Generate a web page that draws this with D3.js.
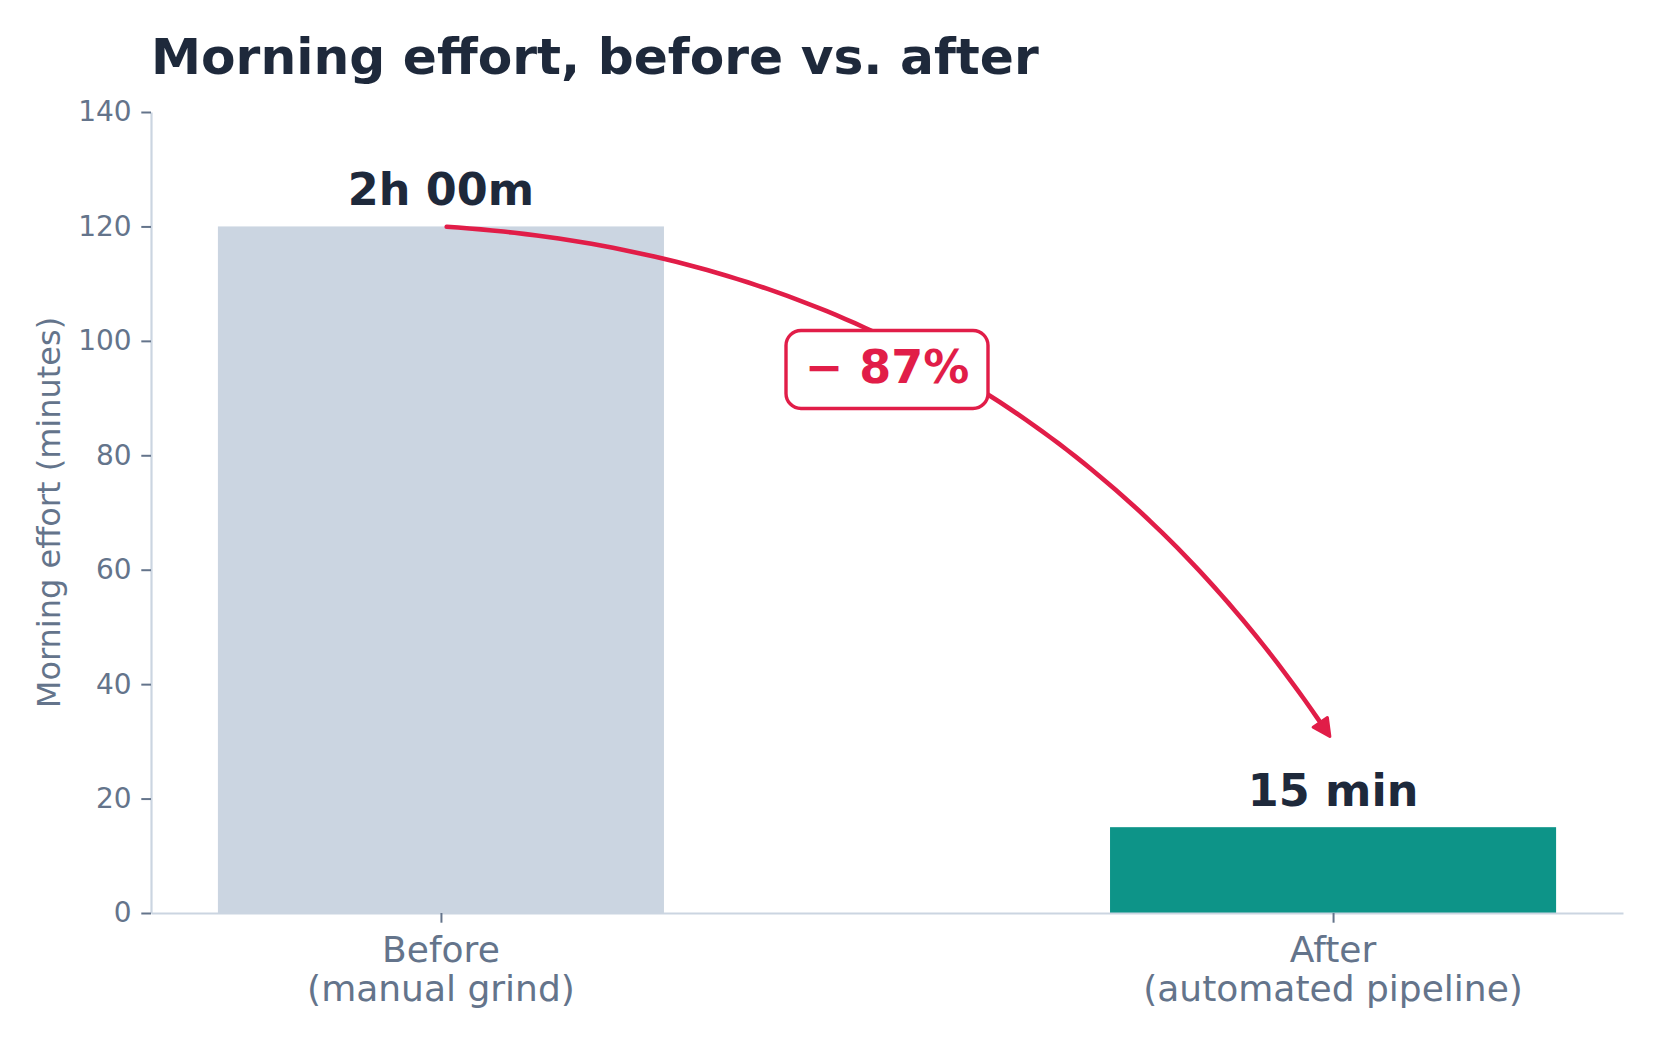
<!DOCTYPE html>
<html>
<head>
<meta charset="utf-8">
<script src="https://cdn.jsdelivr.net/npm/d3@7"></script>
<style>
  body { margin: 0; background: #fff; }
  text { font-family: "DejaVu Sans", sans-serif; }
</style>
</head>
<body>
<div id="chart"></div>
<script>
// chart values
const categories = ["Before", "After"];
const subLabels = ["(manual grind)", "(automated pipeline)"];
const minutes = [120, 15];
const valueLabels = ["2h 00m", "15 min"];
const barColors = ["#cbd5e1", "#0d9488"];
const yTicks = [0, 20, 40, 60, 80, 100, 120, 140];
const arrowFrom = [0, 120];
const arrowTo = [1, 30];
const changeLabel = "\u2212 87%";
const changeLabelAt = [0.5, 95];

let width = 1659, height = 1042;
let margin = {top: 112, right: 36, bottom: 129, left: 151};

let svg = d3.select("#chart")
  .append("svg")
  .attr("width", width)
  .attr("height", height);

svg.append("rect").attr("width", width).attr("height", height).attr("fill", "#fff");

let x = d3.scaleLinear()
  .domain([-0.325, 1.325])
  .range([margin.left, width - margin.right]);

let y = d3.scaleLinear()
  .domain([0, 140])
  .range([height - margin.bottom, margin.top]);

let barWidth = 0.5;

// bars
svg.append("g")
  .selectAll("rect")
  .data(minutes)
  .enter().append("rect")
    .attr("x", function(d, i){ return x(i - barWidth / 2); })
    .attr("width", x(barWidth) - x(0))
    .attr("y", function(d){ return y(d); })
    .attr("height", function(d){ return y(0) - y(d); })
    .attr("fill", function(d, i){ return barColors[i]; });

// value labels
svg.append("g")
  .selectAll("text")
  .data(minutes)
  .enter().append("text")
    .attr("x", function(d, i){ return x(i); })
    .attr("y", function(d){ return y(d) - 21; })
    .attr("text-anchor", "middle")
    .style("font-size", "44.5px")
    .style("font-weight", "bold")
    .style("fill", "#1e293b")
    .text(function(d, i){ return valueLabels[i]; });

// y axis
let yAxis = svg.append("g")
  .attr("transform", "translate(" + margin.left + ",0)")
  .call(d3.axisLeft(y).tickValues(yTicks).tickSize(9.7).tickSizeOuter(0).tickPadding(9.7));
yAxis.select(".domain").attr("stroke", "#cbd5e1").attr("stroke-width", 2.2);
yAxis.selectAll(".tick line").attr("stroke", "#64748b").attr("stroke-width", 2);
yAxis.selectAll(".tick text")
  .style("font-size", "28px")
  .style("fill", "#64748b")
  .style("font-family", "DejaVu Sans");

// x axis
let xAxis = svg.append("g")
  .attr("transform", "translate(0," + y(0) + ")")
  .call(d3.axisBottom(x).tickValues([0, 1]).tickSize(9.7).tickSizeOuter(0).tickFormat(""));
xAxis.select(".domain").attr("stroke", "#cbd5e1").attr("stroke-width", 2.2);
xAxis.selectAll(".tick line").attr("stroke", "#64748b").attr("stroke-width", 2);

let catText = svg.append("g")
  .selectAll("text")
  .data(categories)
  .enter().append("text")
    .attr("text-anchor", "middle")
    .style("font-size", "36px")
    .style("fill", "#64748b");
catText.append("tspan")
  .attr("x", function(d, i){ return x(i); })
  .attr("y", y(0) + 49)
  .text(function(d){ return d; });
catText.append("tspan")
  .attr("x", function(d, i){ return x(i); })
  .attr("y", y(0) + 88)
  .text(function(d, i){ return subLabels[i]; });

// y axis label
svg.append("text")
  .attr("transform", "translate(60," + ((y(0) + y(140)) / 2) + ") rotate(-90)")
  .attr("text-anchor", "middle")
  .style("font-size", "32px")
  .style("fill", "#64748b")
  .text("Morning effort (minutes)");

// title
svg.append("text")
  .attr("x", margin.left)
  .attr("y", 74)
  .style("font-size", "50.3px")
  .style("font-weight", "bold")
  .style("fill", "#1e293b")
  .text("Morning effort, before vs. after");

// curved arrow (quadratic arc, like arc3 rad=-0.25)
let red = "#e11d48";
let p0 = [x(arrowFrom[0]), y(arrowFrom[1])];
let p2 = [x(arrowTo[0]), y(arrowTo[1])];
let rad = -0.25;
let dx = p2[0] - p0[0], dy = p2[1] - p0[1];
let ctrl = [(p0[0] + p2[0]) / 2 - rad * dy, (p0[1] + p2[1]) / 2 + rad * dx];

function bez(t) {
  let a = (1 - t) * (1 - t), b = 2 * t * (1 - t), c = t * t;
  return [a * p0[0] + b * ctrl[0] + c * p2[0], a * p0[1] + b * ctrl[1] + c * p2[1]];
}
function dist(p, q) { return Math.hypot(p[0] - q[0], p[1] - q[1]); }

let shrink = 5.6, headLen = 17, headHalf = 8.5;
let tStart = 0, tTip = 1, tBase = 1;
while (dist(bez(tStart), p0) < shrink) tStart += 0.0005;
while (dist(bez(tTip), p2) < shrink) tTip -= 0.0005;
let tip = bez(tTip);
while (dist(bez(tBase), tip) < headLen || tBase > tTip) tBase -= 0.0005;

let curvePts = d3.range(tStart, tBase, 0.01).concat([tBase]).map(bez);

svg.append("path")
  .attr("d", d3.line()(curvePts))
  .attr("fill", "none")
  .attr("stroke", red)
  .attr("stroke-width", 4.6)
  .attr("stroke-linecap", "round");

let base = bez(tBase);
let ux = (tip[0] - base[0]) / headLen, uy = (tip[1] - base[1]) / headLen;
svg.append("path")
  .attr("d", d3.line()([
    tip,
    [base[0] - uy * headHalf, base[1] + ux * headHalf],
    [base[0] + uy * headHalf, base[1] - ux * headHalf]
  ]) + "Z")
  .attr("fill", red)
  .attr("stroke", red)
  .attr("stroke-width", 3)
  .attr("stroke-linejoin", "round");

// change label box
let cx = x(changeLabelAt[0]), cy = y(changeLabelAt[1]);
svg.append("rect")
  .attr("x", cx - 101)
  .attr("y", cy - 39)
  .attr("width", 202)
  .attr("height", 78)
  .attr("rx", 15)
  .attr("fill", "#fff")
  .attr("stroke", red)
  .attr("stroke-width", 3.4);

svg.append("text")
  .attr("x", cx)
  .attr("y", cy + 14)
  .attr("text-anchor", "middle")
  .style("font-size", "46px")
  .style("font-weight", "bold")
  .style("fill", red)
  .text(changeLabel);
</script>
</body>
</html>
